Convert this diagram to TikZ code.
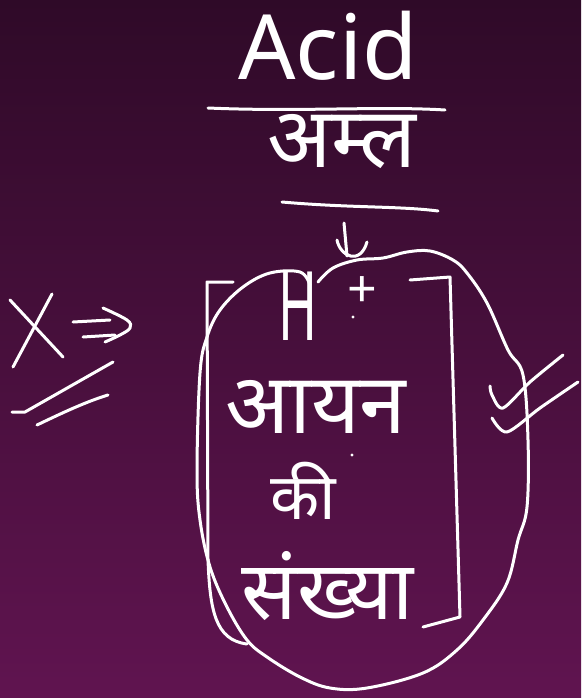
\documentclass[tikz,border=0pt]{standalone}
\usepackage{fontspec}
\setmainfont{Noto Sans}
\newfontfamily\dev[Script=Devanagari]{Noto Sans}
\definecolor{bgtop}{HTML}{2F0A28}
\definecolor{bgbot}{HTML}{601450}
\tikzset{
  stroke/.style={draw=white, line width=3pt, line cap=round, line join=round},
  ink/.style={text=white, inner sep=0pt, outer sep=0pt},
  inkdot/.style={fill=white, draw=none}
}
\begin{document}
\begin{tikzpicture}[x=1pt,y=-1pt]
\shade[top color=bgtop, bottom color=bgbot] (0,0) rectangle (581,698);
\useasboundingbox (0,0) rectangle (581,698);

% Acid
\node[ink, anchor=base, font=\fontsize{90}{90}\selectfont] (acid) at (328,80) {Acid};
\draw[stroke] (208,108) .. controls (300,112) and (380,106) .. (445,110);
% amla
\node[ink, anchor=north, font=\fontsize{84}{84}\dev] (amla) at (342,114) {अम्ल};
\draw[stroke] (282,202) .. controls (350,208) and (400,206) .. (438,211);

% arrow
\coordinate (arrTop) at (344,223);
\coordinate (arrTip) at (347,256);
\draw[stroke] (arrTop) -- (arrTip);
\draw[stroke] (337,240) .. controls (340,256) and (360,266) .. (367,242);

% H+
\node[ink, anchor=base, xscale=0.55, font=\fontsize{96}{96}\selectfont] (H) at (298,340) {H};
\node[ink, font=\fontsize{52}{52}\selectfont] (plus) at (362,292) {+};
\fill[inkdot] (353,317) circle (1.6);

% words
\node[ink, anchor=north, font=\fontsize{84}{84}\dev] (ayan) at (316,380) {आयन};
\fill[inkdot] (352,455) circle (1.6);
\node[ink, anchor=north, font=\fontsize{64}{64}\dev] (ki) at (303,462) {की};
\node[ink, anchor=north, font=\fontsize{82}{82}\dev] (sankhya) at (328,551) {संख्या};

% brackets
\draw[stroke] (233,282) -- (207,282) -- (208,560) .. controls (210,610) and (215,640) .. (247,644);
\draw[stroke] (410,280) -- (450,277) -- (460,617) -- (423,627);

% circle
\draw[stroke] plot[smooth, tension=0.6] coordinates {(318,282) (333,268) (357,260) (383,258) (407,252) (430,251) (453,260) (467,273) (487,303) (508,350) (523,375) (528,440) (527,507) (518,540) (507,583) (483,620) (457,650) (423,673) (367,688) (330,688) (300,677) (267,657) (247,640) (227,607) (210,567) (200,520) (197,470) (200,373) (207,337) (220,310) (243,287) (270,273) (300,272) (310,285)};

% X => //
\draw[stroke] (10,300) -- (63,357);
\draw[stroke] (52,294) -- (13,367);
\draw[stroke] (73,322) -- (110,320);
\draw[stroke] (83,337) -- (115,335);
\draw[stroke] plot[smooth, tension=0.6] coordinates {(103,308) (127,320) (130,328) (120,335) (105,342)};
\draw[stroke] (12,412) -- (25,412) -- (113,362);
\draw[stroke] (37,425) .. controls (60,414) and (85,402) .. (108,395);

% check marks
\draw[stroke] plot[smooth, tension=0.5] coordinates {(490,386) (492,395) (503,408) (530,382) (563,355)};
\draw[stroke] plot[smooth, tension=0.5] coordinates {(492,418) (507,432) (540,408) (578,382)};
\end{tikzpicture}
\end{document}
